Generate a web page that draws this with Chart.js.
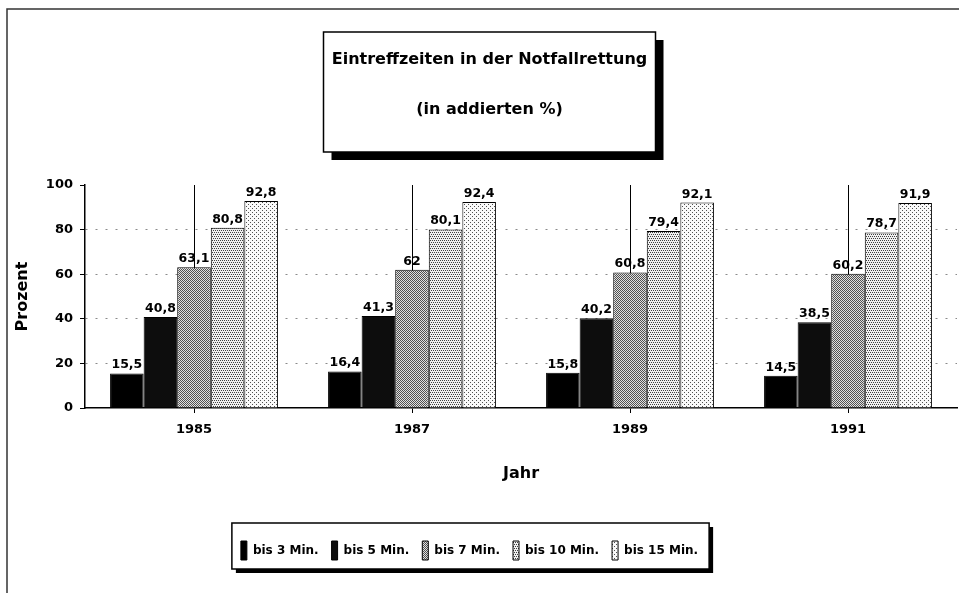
<!DOCTYPE html>
<html lang="de">
<head>
<meta charset="utf-8">
<title>Eintreffzeiten in der Notfallrettung</title>
<script src="https://cdn.jsdelivr.net/npm/chart.js@4.4.1/dist/chart.umd.min.js"></script>
<style>
  html, body { margin: 0; padding: 0; background: #fff; }
  #wrap { width: 959px; height: 593px; }
</style>
</head>
<body>
<div id="wrap"><canvas id="chart" width="959" height="593"></canvas></div>
<script>
// Eintreffzeiten in der Notfallrettung - grouped bar chart

// Data
const years = ['1985', '1987', '1989', '1991'];
const seriesNames = ['bis 3 Min.', 'bis 5 Min.', 'bis 7 Min.', 'bis 10 Min.', 'bis 15 Min.'];
const bis3 = [15.5, 16.4, 15.8, 14.5];
const bis5 = [40.8, 41.3, 40.2, 38.5];
const bis7 = [63.1, 62, 60.8, 60.2];
const bis10 = [80.8, 80.1, 79.4, 78.7];
const bis15 = [92.8, 92.4, 92.1, 91.9];
const yTicks = [0, 20, 40, 60, 80, 100];
const titleLines = ['Eintreffzeiten in der Notfallrettung', '(in addierten %)'];

Chart.defaults.font.family = '"DejaVu Sans", sans-serif';
Chart.defaults.font.weight = 'bold';
Chart.defaults.color = '#000';

const canvas = document.getElementById('chart');
const mainCtx = canvas.getContext('2d');

// Stippled fills like the old print
function makePattern(bg, dot, cells) {
    const c = document.createElement('canvas');
    c.width = 4;
    c.height = 4;
    const g = c.getContext('2d');
    g.fillStyle = bg;
    g.fillRect(0, 0, 4, 4);
    g.fillStyle = dot;
    cells.forEach(([x, y]) => g.fillRect(x, y, 1, 1));
    return mainCtx.createPattern(c, 'repeat');
}

const fills = [
    '#000',
    '#0d0d0d',
    makePattern('#e0e0e0', '#505050', [[0, 0], [2, 0], [1, 1], [3, 1], [0, 2], [2, 2], [1, 3], [3, 3]]),
    makePattern('#f0f0f0', '#404040', [[0, 0], [2, 0], [1, 2], [3, 2]]),
    makePattern('#fafafa', '#505050', [[0, 0], [2, 2]])
];

const seriesValues = [bis3, bis5, bis7, bis10, bis15];

// Value labels above the bars
const barLabels = {
    id: 'barLabels',
    afterDatasetsDraw(chart) {
        const ctx = chart.ctx;
        ctx.save();
        ctx.font = 'bold 12.5px "DejaVu Sans", sans-serif';
        ctx.fillStyle = '#000';
        ctx.textAlign = 'center';
        ctx.textBaseline = 'bottom';
        chart.data.datasets.forEach((ds, i) => {
            chart.getDatasetMeta(i).data.forEach((bar, j) => {
                ctx.fillText(String(ds.data[j]).replace('.', ','), bar.x, bar.y - 2);
            });
        });
        ctx.restore();
    }
};

// Move title right and legend left a bit, like the original
const shiftBlocks = {
    id: 'shiftBlocks',
    afterLayout(chart) {
        chart.titleBlock.left += 11;
        chart.titleBlock.right += 11;
        chart.legend.left -= 9;
        chart.legend.right -= 9;
    }
};

function shadowBox(ctx, x, y, w, h, s) {
    ctx.fillStyle = '#000';
    ctx.fillRect(x + s, y + s, w, h);
    ctx.fillStyle = '#fff';
    ctx.fillRect(x, y, w, h);
    ctx.strokeStyle = '#000';
    ctx.lineWidth = 1.5;
    ctx.strokeRect(x, y, w, h);
}

// Page frame, title box and legend box
const frames = {
    id: 'frames',
    beforeDraw(chart) {
        const ctx = chart.ctx;
        const tb = chart.titleBlock;
        const lg = chart.legend;
        ctx.save();
        ctx.strokeStyle = '#333';
        ctx.lineWidth = 1.5;
        ctx.beginPath();
        ctx.moveTo(7, chart.height);
        ctx.lineTo(7, 9);
        ctx.lineTo(chart.width, 9);
        ctx.stroke();

        const cx = (tb.left + tb.right) / 2;
        shadowBox(ctx, cx - 166, 32, 332, 120, 8);

        const hb = lg.legendHitBoxes;
        if (hb && hb.length) {
            const last = hb[hb.length - 1];
            const lx = hb[0].left - 9;
            const rx = last.left + last.width + 11;
            shadowBox(ctx, lx, lg.top - 5, rx - lx, lg.bottom - lg.top + 4, 4);
        }
        ctx.restore();
    }
};

new Chart(canvas, {
    type: 'bar',
    data: {
        labels: years,
        datasets: seriesNames.map((name, i) => ({
            label: name,
            data: seriesValues[i],
            backgroundColor: fills[i],
            borderColor: '#000',
            borderWidth: 1,
            categoryPercentage: 0.77,
            barPercentage: 1
        }))
    },
    options: {
        responsive: false,
        animation: false,
        layout: { padding: { left: 0, right: 2, top: 0, bottom: 23 } },
        plugins: {
            title: {
                display: true,
                text: titleLines,
                font: { size: 16, weight: 'bold', lineHeight: 3.125 },
                padding: { top: 35, bottom: 50 },
                color: '#000'
            },
            legend: {
                position: 'bottom',
                labels: {
                    boxWidth: 6,
                    boxHeight: 19,
                    padding: 13,
                    font: { size: 12, weight: 'bold' },
                    color: '#000'
                }
            },
            tooltip: { enabled: false }
        },
        scales: {
            x: {
                grid: { offset: false, color: '#000', lineWidth: 1, tickLength: 5, tickColor: '#000' },
                border: { color: '#000', width: 1.5 },
                ticks: { padding: 9, font: { size: 13, weight: 'bold' }, color: '#000' },
                title: {
                    display: true,
                    text: 'Jahr',
                    font: { size: 16, weight: 'bold' },
                    padding: { top: 0, bottom: 45 },
                    color: '#000'
                },
                afterFit(scale) { scale.height = 120; }
            },
            y: {
                min: 0,
                max: 100,
                afterBuildTicks(scale) { scale.ticks = yTicks.map(v => ({ value: v })); },
                grid: {
                    color: c => (c.tick && (c.tick.value === 0 || c.tick.value === 100)) ? 'rgba(0,0,0,0)' : '#8a8a8a',
                    lineWidth: 1,
                    tickLength: 5,
                    tickColor: '#000',
                    tickBorderDash: []
                },
                border: { color: '#000', width: 1.5, dash: [2, 8] },
                ticks: { padding: 7, font: { size: 13, weight: 'bold' }, color: '#000' },
                title: {
                    display: true,
                    text: 'Prozent',
                    font: { size: 16, weight: 'bold' },
                    padding: { top: 13, bottom: 0 },
                    color: '#000'
                },
                afterFit(scale) { scale.width = 85; }
            }
        }
    },
    plugins: [frames, barLabels, shiftBlocks]
});
</script>
</body>
</html>
